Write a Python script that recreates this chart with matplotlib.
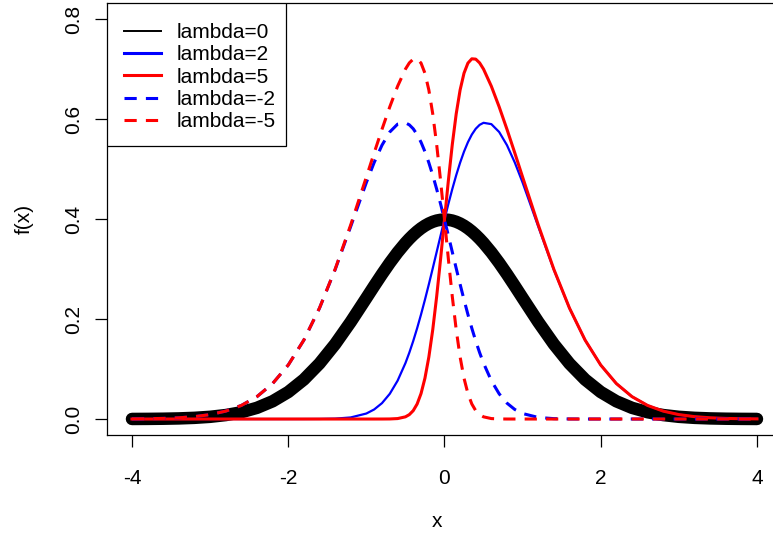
import matplotlib
matplotlib.use("Agg")
import matplotlib.pyplot as plt
from matplotlib.lines import Line2D
from matplotlib.patches import Rectangle

plt.rcParams['font.family'] = ['Liberation Sans', 'DejaVu Sans']

# skew-normal densities
x = [-4.0, -3.8, -3.6, -3.4, -3.2, -3.0, -2.8, -2.6, -2.4, -2.2, -2.0,
     -1.8, -1.6, -1.4, -1.2,
     -1.0, -0.9, -0.8, -0.7, -0.6,
     -0.5, -0.45, -0.4, -0.35, -0.3, -0.25, -0.2, -0.15, -0.1, -0.05,
     0.0, 0.05, 0.1, 0.15, 0.2, 0.25, 0.3, 0.35, 0.4, 0.45, 0.5,
     0.6, 0.7, 0.8, 0.9, 1.0,
     1.2, 1.4, 1.6, 1.8,
     2.0, 2.2, 2.4, 2.6, 2.8, 3.0, 3.2, 3.4, 3.6, 3.8, 4.0]

f_0 = [0.00013, 0.00029, 0.00061, 0.00123, 0.00238, 0.00443, 0.00792, 0.01358, 0.02239, 0.03547, 0.05399,
       0.07895, 0.11092, 0.14973, 0.19419,
       0.24197, 0.26609, 0.28969, 0.31225, 0.33322,
       0.35207, 0.36053, 0.36827, 0.37524, 0.38139, 0.38667, 0.39104, 0.39448, 0.39695, 0.39844,
       0.39894, 0.39844, 0.39695, 0.39448, 0.39104, 0.38667, 0.38139, 0.37524, 0.36827, 0.36053, 0.35207,
       0.33322, 0.31225, 0.28969, 0.26609, 0.24197,
       0.19419, 0.14973, 0.11092, 0.07895,
       0.05399, 0.03547, 0.02239, 0.01358, 0.00792, 0.00443, 0.00238, 0.00123, 0.00061, 0.00029, 0.00013]

f_2 = [0.0, 0.0, 0.0, 0.0, 0.0, 0.0, 0.0, 0.0, 0.0, 0.0, 0.0,
       0.00003, 0.00015, 0.00077, 0.00318,
       0.01101, 0.01912, 0.03175, 0.05044, 0.07669,
       0.11172, 0.13272, 0.15604, 0.18159, 0.20919, 0.23861, 0.26949, 0.30145, 0.33403, 0.36670,
       0.39894, 0.43018, 0.45988, 0.48751, 0.51260, 0.53473, 0.55358, 0.56889, 0.58050, 0.58834, 0.59241,
       0.58976, 0.57407, 0.54763, 0.51305, 0.47293,
       0.38519, 0.29869, 0.22169, 0.15787,
       0.10798, 0.07094, 0.04479, 0.02716, 0.01583, 0.00886, 0.00477, 0.00246, 0.00122, 0.00058, 0.00027]

f_5 = [0.0, 0.0, 0.0, 0.0, 0.0, 0.0, 0.0, 0.0, 0.0, 0.0, 0.0,
       0.0, 0.0, 0.0, 0.0,
       0.0, 0.0, 0.00002, 0.00014, 0.00090,
       0.00437, 0.00881, 0.01676, 0.03006, 0.05096, 0.08170, 0.12409, 0.17880, 0.24495, 0.31978,
       0.39894, 0.47710, 0.54896, 0.61016, 0.65800, 0.69164, 0.71182, 0.72042, 0.71978, 0.71225, 0.69976,
       0.66555, 0.62436, 0.57937, 0.53217, 0.48394,
       0.38837, 0.29945, 0.22184, 0.15790,
       0.10798, 0.07094, 0.04479, 0.02716, 0.01583, 0.00886, 0.00477, 0.00246, 0.00122, 0.00058, 0.00027]

f_m2 = [0.00027, 0.00058, 0.00122, 0.00246, 0.00477, 0.00886, 0.01583, 0.02716, 0.04479, 0.07094, 0.10798,
        0.15787, 0.22169, 0.29869, 0.38519,
        0.47293, 0.51305, 0.54763, 0.57407, 0.58976,
        0.59241, 0.58834, 0.58050, 0.56889, 0.55358, 0.53473, 0.51260, 0.48751, 0.45988, 0.43018,
        0.39894, 0.36670, 0.33403, 0.30145, 0.26949, 0.23861, 0.20919, 0.18159, 0.15604, 0.13272, 0.11172,
        0.07669, 0.05044, 0.03175, 0.01912, 0.01101,
        0.00318, 0.00077, 0.00015, 0.00003,
        0.0, 0.0, 0.0, 0.0, 0.0, 0.0, 0.0, 0.0, 0.0, 0.0, 0.0]

f_m5 = [0.00027, 0.00058, 0.00122, 0.00246, 0.00477, 0.00886, 0.01583, 0.02716, 0.04479, 0.07094, 0.10798,
        0.15790, 0.22184, 0.29945, 0.38837,
        0.48394, 0.53217, 0.57937, 0.62436, 0.66555,
        0.69976, 0.71225, 0.71978, 0.72042, 0.71182, 0.69164, 0.65800, 0.61016, 0.54896, 0.47710,
        0.39894, 0.31978, 0.24495, 0.17880, 0.12409, 0.08170, 0.05096, 0.03006, 0.01676, 0.00881, 0.00437,
        0.00090, 0.00014, 0.00002, 0.0, 0.0,
        0.0, 0.0, 0.0, 0.0,
        0.0, 0.0, 0.0, 0.0, 0.0, 0.0, 0.0, 0.0, 0.0, 0.0, 0.0]

labels = ['lambda=0', 'lambda=2', 'lambda=5', 'lambda=-2', 'lambda=-5']
xticks = [-4, -2, 0, 2, 4]
yticks = [0.0, 0.2, 0.4, 0.6, 0.8]

fig = plt.figure(figsize=(7.73, 5.38), dpi=100)
ax = fig.add_axes([0.1384, 0.1914, 0.8732, 0.803])

dash = (4, 3)
ax.plot(x, f_0, color='black', lw=9, solid_capstyle='round', solid_joinstyle='round')
ax.plot(x, f_2, color='blue', lw=1.6)
ax.plot(x, f_5, color='red', lw=2.2)
ax.plot(x, f_m2, color='blue', lw=2.2, dashes=dash)
ax.plot(x, f_m5, color='red', lw=2.2, dashes=dash)

ax.set_xlim(-4.32, 4.32)
ax.set_ylim(-0.032, 0.832)
ax.set_xticks(xticks)
ax.set_xticklabels([str(t) for t in xticks])
ax.set_yticks(yticks)
ax.set_yticklabels(['%.1f' % t for t in yticks], rotation=90, va='center')
ax.tick_params(axis='both', direction='out', length=8.5, width=0.9, labelsize=15, color='black')
ax.tick_params(axis='x', pad=16)
ax.tick_params(axis='y', pad=9)
for s in ax.spines.values():
    s.set_linewidth(0.9)
    s.set_color('black')

ax.set_xlabel('x', fontsize=15)
ax.set_ylabel('f(x)', fontsize=15)
ax.xaxis.set_label_coords(0.4889, -0.2)
ax.xaxis.label.set_va('center')
ax.yaxis.set_label_coords(-0.123, 0.5)
ax.yaxis.label.set_va('center')

# legend box drawn separately (R-style padding)
ax.add_patch(Rectangle((0, 0.669), 0.2652, 0.331, transform=ax.transAxes,
                       facecolor='white', edgecolor='black', lw=0.9, zorder=4.9))
handles = [
    Line2D([], [], color='black', lw=1.4),
    Line2D([], [], color='blue', lw=2.2),
    Line2D([], [], color='red', lw=2.2),
    Line2D([], [], color='blue', lw=2.2, dashes=dash),
    Line2D([], [], color='red', lw=2.2, dashes=dash),
]
leg = ax.legend(handles, labels, loc='upper left', bbox_to_anchor=(0.0252, 0.9536),
                borderaxespad=0, borderpad=0, frameon=False, fontsize=15,
                handlelength=1.78, handletextpad=0.77, labelspacing=0.16)
leg.set_zorder(5)

fig.savefig('out.png', dpi=100)
